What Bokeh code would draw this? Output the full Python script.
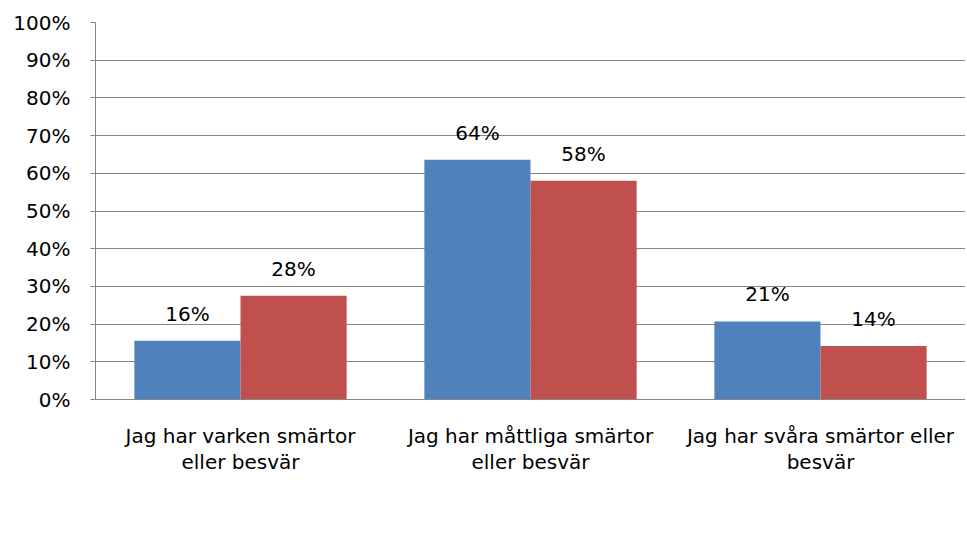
from bokeh.plotting import figure
from bokeh.models import (ColumnDataSource, FixedTicker, Legend, LegendItem, Range1d,
                          LinearAxis)
from bokeh.transform import dodge
from bokeh.core.properties import value
from bokeh.embed import file_html
from bokeh.resources import INLINE

categories = ["Jag har varken smärtor\neller besvär",
              "Jag har måttliga smärtor\neller besvär",
              "Jag har svåra smärtor eller\nbesvär"]
series_names = ["Kvinnor", "Män"]
kvinnor = [15.6, 63.6, 20.7]
man = [27.5, 58.0, 14.2]
y_ticks = [0, 10, 20, 30, 40, 50, 60, 70, 80, 90, 100]

colors = ["#4F81BD", "#C0504D"]
grid = "#868686"
FONT = "DejaVu Sans"
FS = "20px"

# category slots: each category occupies one unit, centred at index + 0.5
xc = [i + 0.5 for i in range(len(categories))]

src = ColumnDataSource(dict(
    xc=xc,
    kvinnor=kvinnor,
    man=man,
    k_lab=[f"{round(v)}%" for v in kvinnor],
    m_lab=[f"{round(v)}%" for v in man],
))

p = figure(frame_width=870, frame_height=377, output_backend="svg", toolbar_location=None,
           x_range=Range1d(0, len(categories)), y_range=Range1d(0, 100),
           min_border_left=95, min_border_right=0, min_border_top=22, min_border_bottom=135)
p.outline_line_color = None
p.background_fill_color = "white"
p.border_fill_color = "white"

bw = 0.366
r1 = p.vbar(x=dodge("xc", -bw / 2, range=p.x_range), top="kvinnor", width=bw,
            source=src, fill_color=colors[0], line_color=None)
r2 = p.vbar(x=dodge("xc", bw / 2, range=p.x_range), top="man", width=bw,
            source=src, fill_color=colors[1], line_color=None)

p.text(x=dodge("xc", -bw / 2, range=p.x_range), y="kvinnor", text="k_lab", source=src,
       text_align="center", text_baseline="alphabetic", y_offset=-27,
       text_font=value(FONT), text_font_size=FS, text_color="#000000")
p.text(x=dodge("xc", bw / 2, range=p.x_range), y="man", text="m_lab", source=src,
       text_align="center", text_baseline="alphabetic", y_offset=-27,
       text_font=value(FONT), text_font_size=FS, text_color="#000000")

# grids
p.xgrid.grid_line_color = None
p.ygrid.grid_line_color = grid
p.ygrid.grid_line_width = 1
p.ygrid.ticker = FixedTicker(ticks=y_ticks)

# y axis
p.yaxis.ticker = FixedTicker(ticks=y_ticks)
p.yaxis.major_label_overrides = {t: f"{t}%" for t in y_ticks}
p.yaxis.axis_line_color = grid
p.yaxis.major_tick_line_color = grid
p.yaxis.major_tick_out = 5
p.yaxis.major_tick_in = 0
p.yaxis.minor_tick_line_color = None
p.yaxis.major_label_standoff = 20
p.yaxis.major_label_text_font = FONT
p.yaxis.major_label_text_font_size = FS
p.yaxis.major_label_text_color = "#000000"

# x axis: first line of each category label
xa = p.xaxis[0]
xa.ticker = FixedTicker(ticks=xc)
xa.axis_line_color = grid
xa.major_tick_line_color = None
xa.minor_tick_line_color = None
xa.major_label_standoff = 18
xa.major_label_text_font = FONT
xa.major_label_text_font_size = FS
xa.major_label_text_color = "#000000"
xa.major_label_overrides = {x: c.split("\n")[0] for x, c in zip(xc, categories)}

# second line of each category label
xa2 = LinearAxis(ticker=FixedTicker(ticks=xc),
                 axis_line_color=None, major_tick_line_color=None,
                 minor_tick_line_color=None, major_label_standoff=-7,
                 major_label_text_font=FONT, major_label_text_font_size=FS,
                 major_label_text_color="#000000",
                 major_label_overrides={x: c.split("\n")[1] for x, c in zip(xc, categories)})
p.add_layout(xa2, "below")

legend = Legend(items=[LegendItem(label=series_names[0], renderers=[r1]),
                       LegendItem(label=series_names[1], renderers=[r2])],
                orientation="horizontal", location=(308, 0),
                border_line_color=None, background_fill_alpha=0,
                glyph_width=12, glyph_height=12, label_standoff=6, spacing=17,
                padding=0, margin=13,
                label_text_font=FONT, label_text_font_size=FS, label_text_color="#000000")
p.add_layout(legend, "below")

open("out.html", "w").write(file_html(p, INLINE))
